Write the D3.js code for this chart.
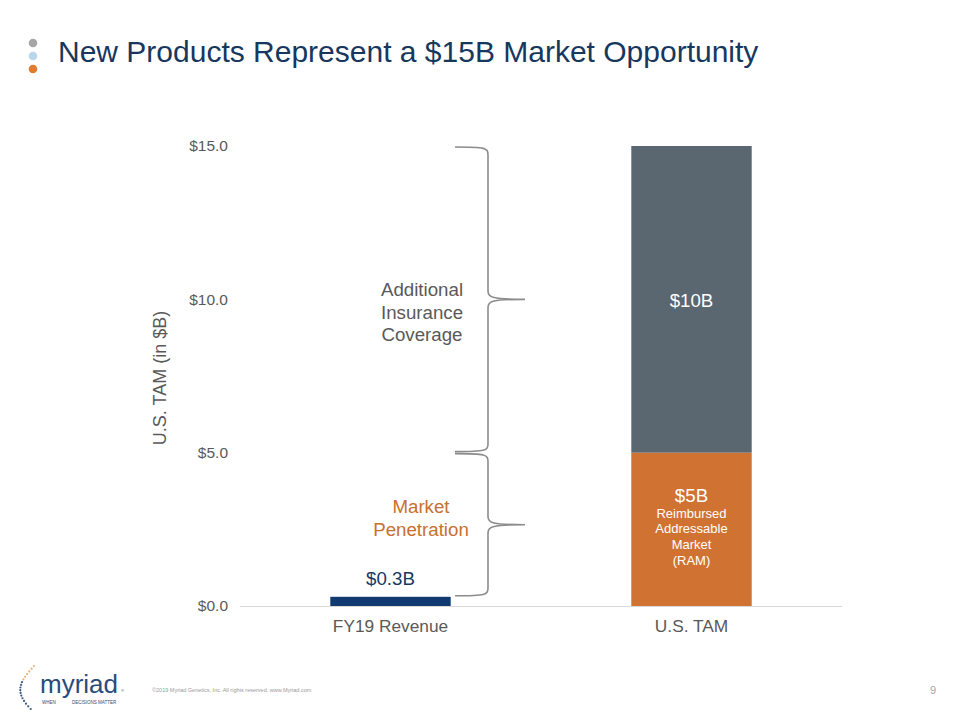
<!DOCTYPE html>
<html>
<head>
<meta charset="utf-8">
<script src="https://cdn.jsdelivr.net/npm/d3@7"></script>
<style>
  body { margin: 0; background: #fff; }
  svg { display: block; font-family: Arial, "Liberation Sans", sans-serif; }
</style>
</head>
<body>
<script>
const width = 960;
const height = 720;

// data
const categories = ["FY19 Revenue", "U.S. TAM"];
const revenue = [0.3, 0];
const reimbursed = [0, 5];
const additional = [0, 10];
const yTicks = [0, 5, 10, 15];
const seriesKeys = ["revenue", "reimbursed", "additional"];
const seriesColors = { revenue: "#113a70", reimbursed: "#d07231", additional: "#5a6670" };

const rows = categories.map((c, i) => ({
  category: c, revenue: revenue[i], reimbursed: reimbursed[i], additional: additional[i]
}));

const svg = d3.select("body").append("svg")
  .attr("width", width)
  .attr("height", height);

// title + bullet dots
svg.append("g").selectAll("circle")
  .data(["#a6a6a6", "#b9d7ea", "#e07b32"])
  .join("circle")
  .attr("cx", 33)
  .attr("cy", (d, i) => 43 + i * 13)
  .attr("r", 4.3)
  .attr("fill", d => d);

svg.append("text")
  .attr("x", 58).attr("y", 62)
  .attr("font-size", 30)
  .attr("fill", "#17375e")
  .text("New Products Represent a $15B Market Opportunity");

const x = d3.scaleBand()
  .domain(categories)
  .range([240, 842])
  .paddingInner(0.6)
  .paddingOuter(0.3);

const y = d3.scaleLinear().domain([0, 15]).range([606, 146]);

// y axis labels
const yAxis = svg.append("g")
  .attr("transform", "translate(240,0)")
  .call(d3.axisLeft(y).tickValues(yTicks).tickSize(0).tickPadding(12)
    .tickFormat(d => "$" + d3.format(".1f")(d)));
yAxis.select(".domain").remove();
yAxis.selectAll("text").attr("font-size", 15.5).attr("fill", "#595959")
  .attr("font-family", "Arial, 'Liberation Sans', sans-serif");

svg.append("text")
  .attr("transform", `translate(166,${y(7.5) + 2}) rotate(-90)`)
  .attr("text-anchor", "middle")
  .attr("font-size", 18)
  .attr("fill", "#595959")
  .text("U.S. TAM (in $B)");

// stacked bars
const stacked = d3.stack().keys(seriesKeys)(rows);
svg.append("g").selectAll("g")
  .data(stacked)
  .join("g")
  .attr("fill", d => seriesColors[d.key])
  .selectAll("rect")
  .data(d => d.filter(p => p[1] > p[0]))
  .join("rect")
  .attr("x", d => x(d.data.category))
  .attr("width", x.bandwidth())
  .attr("y", d => y(d[1]))
  .attr("height", d => y(d[0]) - y(d[1]));

// baseline
svg.append("line")
  .attr("x1", 240).attr("x2", 842)
  .attr("y1", y(0) + 0.5).attr("y2", y(0) + 0.5)
  .attr("stroke", "#d9d9d9").attr("stroke-width", 1);

// x axis labels
const xAxis = svg.append("g")
  .attr("transform", `translate(0,${y(0)})`)
  .call(d3.axisBottom(x).tickSize(0).tickPadding(14));
xAxis.select(".domain").remove();
xAxis.selectAll("text").attr("font-size", 17.3).attr("fill", "#595959")
  .attr("font-family", "Arial, 'Liberation Sans', sans-serif");

// bar labels
const cx = c => x(c) + x.bandwidth() / 2;
svg.append("text")
  .attr("x", cx(categories[0])).attr("y", y(revenue[0]) - 12)
  .attr("text-anchor", "middle").attr("font-size", 18.7).attr("fill", "#17375e")
  .text("$" + revenue[0] + "B");

svg.append("text")
  .attr("x", cx(categories[1])).attr("y", y(reimbursed[1] + additional[1] / 2) + 7.5)
  .attr("text-anchor", "middle").attr("font-size", 18.7).attr("fill", "#fff")
  .text("$" + additional[1] + "B");

svg.append("text")
  .attr("x", cx(categories[1])).attr("y", y(reimbursed[1]) + 49)
  .attr("text-anchor", "middle").attr("font-size", 18.7).attr("fill", "#fff")
  .text("$" + reimbursed[1] + "B");

const ramLines = ["Reimbursed", "Addressable", "Market", "(RAM)"];
svg.append("g").selectAll("text")
  .data(ramLines)
  .join("text")
  .attr("x", cx(categories[1]))
  .attr("y", (d, i) => y(reimbursed[1]) + 65 + i * 15.7)
  .attr("text-anchor", "middle").attr("font-size", 13).attr("fill", "#fff")
  .text(d => d);

// curly braces
function brace(y0, y1, xl, xm, xt) {
  const ym = (y0 + y1) / 2;
  const r = 8;
  return `M${xl},${y0} C${xm - 2},${y0} ${xm},${y0 + 1} ${xm},${y0 + r}` +
    ` L${xm},${ym - r} C${xm},${ym - 2} ${xm + 4},${ym} ${xt},${ym}` +
    ` M${xt},${ym} C${xm + 4},${ym} ${xm},${ym + 2} ${xm},${ym + r}` +
    ` L${xm},${y1 - r} C${xm},${y1 - 1} ${xm - 2},${y1} ${xl},${y1}`;
}
const braces = [
  { from: 15, to: 5 },
  { from: 5, to: revenue[0] }
];
svg.append("g").selectAll("path")
  .data(braces)
  .join("path")
  .attr("d", d => brace(y(d.from) + 1, y(d.to) - 1, 455, 488, 525))
  .attr("fill", "none")
  .attr("stroke", "#8c8c8c")
  .attr("stroke-width", 1.6);

const addLines = ["Additional", "Insurance", "Coverage"];
svg.append("g").selectAll("text")
  .data(addLines)
  .join("text")
  .attr("x", 422)
  .attr("y", (d, i) => 296 + i * 22.5)
  .attr("text-anchor", "middle").attr("font-size", 18.7).attr("fill", "#595959")
  .text(d => d);

const penLines = ["Market", "Penetration"];
svg.append("g").selectAll("text")
  .data(penLines)
  .join("text")
  .attr("x", 421)
  .attr("y", (d, i) => 513 + i * 22.5)
  .attr("text-anchor", "middle").attr("font-size", 18.7).attr("fill", "#c8702e")
  .text(d => d);

// footer: logo, copyright, page number
const logo = svg.append("g");
const dots = d3.range(0, 1.001, 1 / 16);
logo.selectAll("circle")
  .data(dots)
  .join("circle")
  .attr("cx", t => 34 - 16 * Math.sin(t * Math.PI * 0.85) + 4 * t)
  .attr("cy", t => 666 + t * 43)
  .attr("r", 1.1)
  .attr("fill", (t, i) => i < 6 ? "#e9b27a" : "#3d5a85");
logo.append("text")
  .attr("x", 40).attr("y", 693)
  .attr("font-size", 26).attr("fill", "#2a4b7c")
  .text("myriad");
logo.append("text")
  .attr("x", 121).attr("y", 692)
  .attr("font-size", 4).attr("fill", "#2a4b7c")
  .text("®");
logo.append("text")
  .attr("x", 42).attr("y", 703.5)
  .attr("font-size", 4.5).attr("fill", "#2a4b7c")
  .text("WHEN");
logo.append("text")
  .attr("x", 72).attr("y", 703.5)
  .attr("font-size", 4.5).attr("fill", "#2a4b7c")
  .text("DECISIONS MATTER");

svg.append("text")
  .attr("x", 152).attr("y", 692)
  .attr("font-size", 5.5).attr("fill", "#9a9a9a")
  .text("©2019 Myriad Genetics, Inc. All rights reserved. www.Myriad.com");

svg.append("text")
  .attr("x", 930).attr("y", 694)
  .attr("font-size", 11).attr("fill", "#a6a6a6")
  .text("9");
</script>
</body>
</html>
